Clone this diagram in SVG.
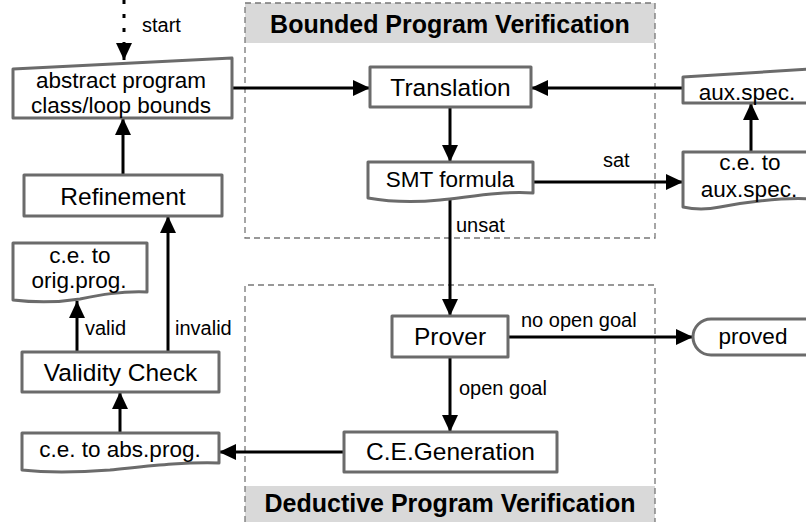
<svg xmlns="http://www.w3.org/2000/svg" width="806" height="522" viewBox="0 0 806 522">
<defs>
<marker id="ah" markerUnits="userSpaceOnUse" markerWidth="18" markerHeight="16" refX="17" refY="8" orient="auto">
<path d="M0,0 L17,8 L0,16 z" fill="#000"/>
</marker>
<style>
.box{fill:#fff;stroke:#6b6b6b;stroke-width:3;stroke-linejoin:round}
.t{font-family:"Liberation Sans",Arial,sans-serif;font-size:24.5px;fill:#000;text-anchor:middle}
.d{font-family:"Liberation Sans",Arial,sans-serif;font-size:22.5px;fill:#000;text-anchor:middle}
.l{font-family:"Liberation Sans",Arial,sans-serif;font-size:20px;fill:#000}
.h{font-family:"Liberation Sans",Arial,sans-serif;font-size:25px;font-weight:bold;fill:#000;text-anchor:middle}
.c{fill:none;stroke:#000;stroke-width:3}
.dash{fill:none;stroke:#777;stroke-width:1.3;stroke-dasharray:6,4}
</style>
</defs>
<rect width="806" height="522" fill="#fff"/>
<g id="group-bounded">
<rect x="245" y="3" width="410" height="40" fill="#d9d9d9"/>
<rect x="245" y="3" width="410" height="235" class="dash"/>
<text x="450" y="33" class="h">Bounded Program Verification</text>
</g>
<g id="group-deductive">
<rect x="245" y="486" width="410" height="36" fill="#d9d9d9"/>
<path d="M245,522 V285 H655 V522" class="dash"/>
<text x="450" y="512" class="h">Deductive Program Verification</text>
</g>
<g id="connectors">
<path d="M124,0 V44" class="c" stroke-dasharray="4,10"/>
<path d="M124,44 V60" class="c" marker-end="url(#ah)"/>
<text x="142" y="32" class="l">start</text>
<path d="M232,88 H370" class="c" marker-end="url(#ah)"/>
<path d="M683,88 H531" class="c" marker-end="url(#ah)"/>
<path d="M450,107 V162" class="c" marker-end="url(#ah)"/>
<path d="M533,182 H683" class="c" marker-end="url(#ah)"/>
<text x="603" y="167" class="l">sat</text>
<path d="M751,152 V103" class="c" marker-end="url(#ah)"/>
<path d="M450,199 V316" class="c" marker-end="url(#ah)"/>
<text x="456" y="232" class="l">unsat</text>
<path d="M508,337 H693" class="c" marker-end="url(#ah)"/>
<text x="521" y="327" class="l">no open goal</text>
<path d="M450,357 V432" class="c" marker-end="url(#ah)"/>
<text x="459" y="395" class="l">open goal</text>
<path d="M344,452 H219" class="c" marker-end="url(#ah)"/>
<path d="M120,433 V392" class="c" marker-end="url(#ah)"/>
<path d="M77,352 V301" class="c" marker-end="url(#ah)"/>
<text x="85" y="335" class="l">valid</text>
<path d="M168,352 V216" class="c" marker-end="url(#ah)"/>
<text x="175" y="335" class="l">invalid</text>
<path d="M123,175 V118" class="c" marker-end="url(#ah)"/>
</g>
<g id="node-abstract">
<path d="M13,69 L232,58 V118 H13 Z" class="box"/>
<text x="121" y="88" class="d">abstract program</text>
<text x="121" y="113" class="d">class/loop bounds</text>
</g>
<g id="node-translation">
<rect x="370" y="67" width="161" height="40" class="box"/>
<text x="450.5" y="96" class="t">Translation</text>
</g>
<g id="node-auxspec">
<path d="M683,77 L812,69 V103 H683 Z" class="box"/>
<text x="747" y="100" class="d">aux.spec.</text>
</g>
<g id="node-ce-aux">
<path d="M683,152 H812 V199 C780,197 740,203 720,207 C705,210 692,209 683,207 Z" class="box"/>
<text x="750" y="170" class="d">c.e. to</text>
<text x="749" y="197" class="d">aux.spec.</text>
</g>
<g id="node-smt">
<path d="M368,162 H533 V193 C500,191 470,197 440,200 C410,203 385,201 368,198 Z" class="box"/>
<text x="450" y="187" class="d">SMT formula</text>
</g>
<g id="node-prover">
<rect x="392" y="316" width="116" height="41" class="box"/>
<text x="450" y="345" class="t">Prover</text>
</g>
<g id="node-proved">
<rect x="693" y="319" width="130" height="36" rx="18" ry="18" class="box"/>
<text x="753" y="344" class="d">proved</text>
</g>
<g id="node-cegen">
<rect x="344" y="432" width="213" height="40" class="box"/>
<text x="450.5" y="460" class="t">C.E.Generation</text>
</g>
<g id="node-ce-abs">
<path d="M22,433 H219 V463 C180,462 150,466 110,470 C70,473 40,472 22,470 Z" class="box"/>
<text x="120" y="457" class="d">c.e. to abs.prog.</text>
</g>
<g id="node-validity">
<rect x="22" y="352" width="197" height="40" class="box"/>
<text x="120.5" y="381" class="t">Validity Check</text>
</g>
<g id="node-ce-orig">
<path d="M13,243 H147 V292 C120,291 100,295 80,299 C55,303 30,302 13,300 Z" class="box"/>
<text x="80" y="263" class="d">c.e. to</text>
<text x="79" y="288" class="d">orig.prog.</text>
</g>
<g id="node-refinement">
<rect x="24" y="175" width="198" height="41" class="box"/>
<text x="123" y="205" class="t">Refinement</text>
</g>
</svg>
